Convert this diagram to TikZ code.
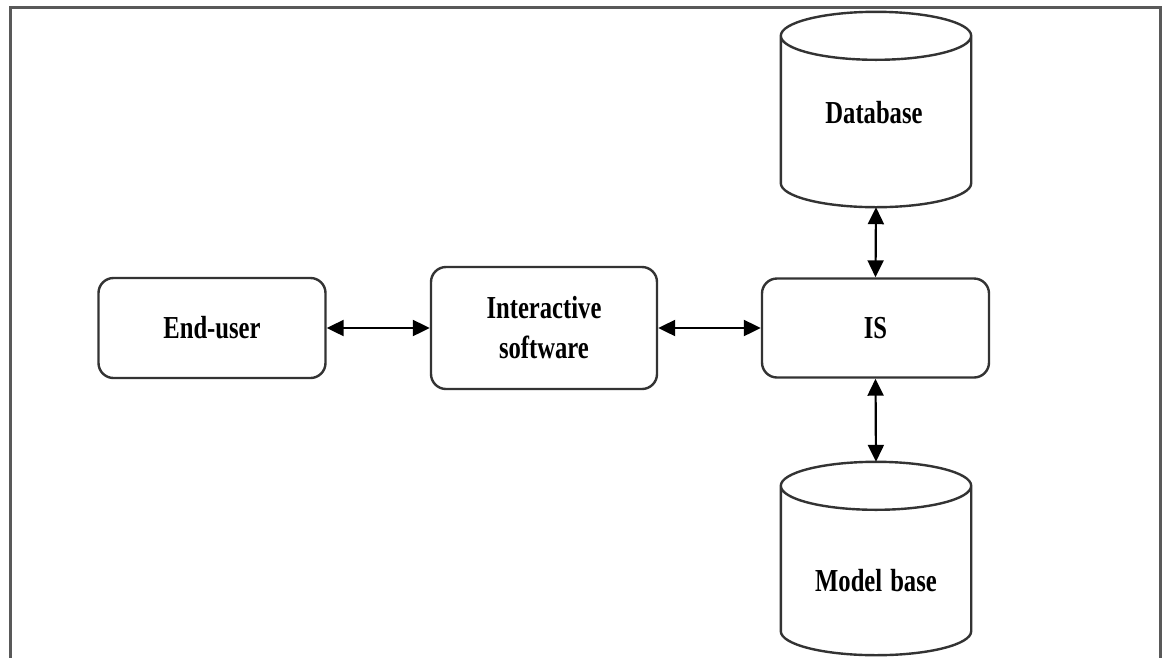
\documentclass[tikz,border=0pt]{standalone}
\usepackage{fontspec}
\setmainfont{Liberation Serif}[FakeStretch=0.77]
\usetikzlibrary{arrows.meta,calc}

\tikzset{
  block/.style={draw=black!80, line width=2.4pt, rounded corners=15pt,
    fill=white, font=\fontsize{32}{40}\selectfont\bfseries, align=center},
  dbslot/.style={inner sep=0pt, font=\fontsize{32}{40}\selectfont\bfseries},
  cyl/.style={draw=black!80, line width=2.4pt},
  link/.style={line width=2.2pt, black, {Triangle[length=17pt,width=16pt]}-{Triangle[length=17pt,width=16pt]}},
  frameline/.style={draw=black!65, line width=3pt}
}

% cylinder outline drawn around a named node (#1), with cap half-height #2 (pt)
\newcommand{\drumoutline}[2]{%
  \path let \p1=(#1.north west), \p2=(#1.south east) in
    \pgfextra{\pgfmathsetmacro{\rx}{(\x2-\x1)/2}}
    [cyl] ($(#1.north west)+(0,#2)$) -- ($(#1.south west)+(0,-#2)$)
      arc[start angle=180, end angle=360, x radius=\rx pt, y radius=#2pt]
      -- ($(#1.north east)+(0,#2)$)
      arc[start angle=0, end angle=-360, x radius=\rx pt, y radius=#2pt];
}

\begin{document}
\begin{tikzpicture}[x=1pt,y=-1pt]
  \useasboundingbox (0,0) rectangle (1163,657);
  \fill[white] (0,0) rectangle (1163,657);

  % outer frame, open at the foot of the page
  \begin{scope}
    \clip (0,0) rectangle (1163,657);
    \draw[frameline] (10.5,680) -- (10.5,7.5) -- (1160.5,7.5) -- (1160.5,680);
  \end{scope}

  % process boxes
  \node[block, minimum width=227pt, minimum height=100pt] (user) at (212,328) {End-user};
  \node[block, minimum width=226pt, minimum height=122pt] (soft) at (544,328) {Interactive\\software};
  \node[block, minimum width=227pt, minimum height=99pt] (is) at (875.5,328) {IS};

  % storage drums
  \node[dbslot, minimum width=190pt, minimum height=195pt] (db) at (876,109.5) {};
  \node[dbslot, minimum width=190pt, minimum height=193pt] (mb) at (876,558.5) {};
  \drumoutline{db}{24}
  \drumoutline{mb}{24}
  \node[dbslot] (dbtxt) at (874,113) {Database};
  \node[dbslot] (mbtxt) at (876,581) {Model\hspace{8pt}base};

  % two-way links
  \draw[link] (user.east) -- (soft.west |- user.east);
  \draw[link] (soft.east |- is.west) -- (is.west);
  \draw[link] (db.south) -- (is.north);
  \draw[link] (is.south) -- (mb.north);
\end{tikzpicture}
\end{document}
